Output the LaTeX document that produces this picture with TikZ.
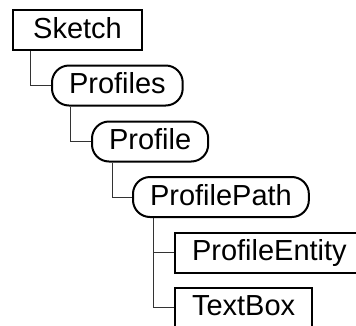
\documentclass[tikz,border=0pt]{standalone}
\usepackage{fontspec}
\setmainfont{Liberation Sans}

\begin{document}
\begin{tikzpicture}[x=1pt,y=-1pt,
    elem/.style={draw,line width=2pt,anchor=west,minimum height=40pt,inner xsep=17pt,
        text height=21pt,text depth=5pt,font=\fontsize{29}{34}\selectfont},
    grp/.style={elem,rounded corners=17pt},
    link/.style={line width=0.9pt,black!80}]
    \useasboundingbox (0,0) rectangle (356,325);
    \node[elem,minimum width=129pt] (sketch) at (12,30) {Sketch};
    \node[grp] (profiles) at (51,85.5) {Profiles};
    \node[grp] (profile) at (91,141.5) {Profile};
    \node[grp] (path) at (132,197) {ProfilePath};
    \node[elem] (entity) at (174,252.5) {ProfileEntity};
    \node[elem] (textbox) at (174,307.5) {TextBox};
    \draw[link] ([xshift=18pt]sketch.south west) |- (profiles.west);
    \draw[link] ([xshift=19pt]profiles.south west) |- (profile.west);
    \draw[link] ([xshift=21pt]profile.south west) |- (path.west);
    \draw[link] ([xshift=21pt]path.south west) |- (entity.west);
    \draw[link] ([xshift=21pt]path.south west) |- (textbox.west);
\end{tikzpicture}
\end{document}
